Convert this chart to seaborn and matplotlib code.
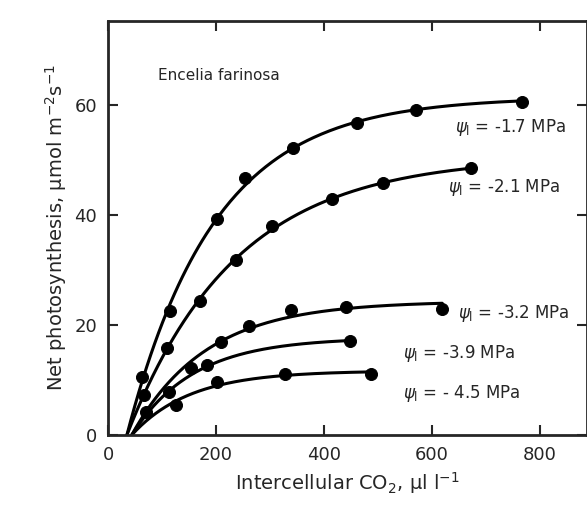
import numpy as np
import matplotlib
matplotlib.use("Agg")
import matplotlib.pyplot as plt
import seaborn as sns

sns.set_style("ticks")
plt.rcParams['font.family'] = ['DejaVu Sans']
plt.rcParams['mathtext.fontset'] = 'dejavusans'

s17_x = [63, 115, 202, 254, 343, 461, 570, 767]
s17_y = [10.5, 22.5, 39.3, 46.7, 52.2, 56.7, 59.1, 60.5]
s21_x = [67, 109, 170, 237, 304, 415, 509, 672]
s21_y = [7.3, 15.8, 24.4, 31.8, 38.0, 42.9, 45.8, 48.5]
s32_x = [70, 154, 209, 261, 339, 441, 619]
s32_y = [4.2, 12.2, 17.0, 19.8, 22.7, 23.3, 22.9]
s39_x = [113, 183, 448]
s39_y = [7.8, 12.7, 17.1]
s45_x = [126, 202, 328, 487]
s45_y = [5.5, 9.6, 11.1, 11.1]
labels = ["= -1.7 MPa", "= -2.1 MPa", "= -3.2 MPa", "= -3.9 MPa", "= - 4.5 MPa"]
label_pos = [(455, 127), (448, 188), (458, 313), (403, 353), (403, 393)]

series = [(s17_x, s17_y), (s21_x, s21_y), (s32_x, s32_y), (s39_x, s39_y), (s45_x, s45_y)]

fig = plt.figure(figsize=(5.87, 5.16), dpi=100)
ax = fig.add_axes([108/587, 1-435/516, 1-108/587, (435-21)/516])

def px2data(px, py):
    return (px-108)/0.54, (435-py)/5.5

for (xs, ys), lab, pos in zip(series, labels, label_pos):
    xs = np.array(xs, float); ys = np.array(ys, float)
    best = None
    for x0 in np.linspace(28, 44, 17):
        for k in np.linspace(0.001, 0.03, 300):
            b = 1-np.exp(-k*(xs-x0))
            A = (b@ys)/(b@b)
            err = ((A*b-ys)**2).sum()
            if best is None or err < best[0]:
                best = (err, A, k, x0)
    _, A, k, x0 = best
    xx = np.linspace(x0, xs.max(), 200)
    sns.lineplot(x=xx, y=A*(1-np.exp(-k*(xx-x0))), ax=ax, color='black', lw=2.2)
    sns.scatterplot(x=xs, y=ys, ax=ax, color='black', s=75, edgecolor='black', zorder=3)
    tx, ty = px2data(*pos)
    ax.text(tx, ty, r'$\psi_{\rm l}$ ' + lab, fontsize=12, va='center', ha='left', fontweight='medium')

tx, ty = px2data(158, 75)
ax.text(tx, ty, "Encelia farinosa", fontsize=11, va='center')

ax.set_xlim(0, (587-108)/0.54)
ax.set_ylim(0, (435-21)/5.5)
ax.set_xticks([0, 200, 400, 600, 800])
ax.set_yticks([0, 20, 40, 60])
ax.tick_params(direction='in', length=7, width=1.5, labelsize=13, top=True, right=True, pad=8)
for s in ax.spines.values():
    s.set_linewidth(2)
ax.set_xlabel(r'Intercellular CO$_2$, µl l$^{-1}$', fontsize=14)
ax.set_ylabel(r'Net photosynthesis, µmol m$^{-2}$s$^{-1}$', fontsize=14)
fig.savefig("out.png", dpi=100)
